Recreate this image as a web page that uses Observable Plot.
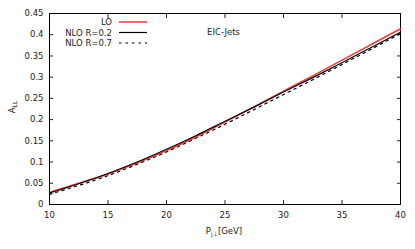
<!DOCTYPE html>
<html>
<head>
<meta charset="utf-8">
<script src="https://cdn.jsdelivr.net/npm/d3@7"></script>
<script src="https://cdn.jsdelivr.net/npm/@observablehq/plot@0.6"></script>
<style>
  html, body { margin: 0; padding: 0; background: #fff; }
  #wrap { position: relative; width: 415px; height: 249px; font-family: "DejaVu Sans", sans-serif; }
</style>
</head>
<body>
<div id="wrap"></div>
<script>
const pT = [10, 12.5, 15, 17.5, 20, 22.5, 25, 27.5, 30, 32.5, 35, 37.5, 40];
const LO    = [0.029, 0.050, 0.072, 0.098, 0.127, 0.159, 0.194, 0.230, 0.267, 0.303, 0.340, 0.377, 0.414];
const NLO02 = [0.027, 0.049, 0.073, 0.100, 0.130, 0.162, 0.196, 0.230, 0.265, 0.299, 0.334, 0.370, 0.406];
const NLO07 = [0.024, 0.045, 0.068, 0.095, 0.124, 0.156, 0.189, 0.224, 0.259, 0.294, 0.330, 0.366, 0.403];
const seriesNames = ["LO", "NLO R=0.2", "NLO R=0.7"];
const xTicks = [10, 15, 20, 25, 30, 35, 40];
const yTicks = [0, 0.05, 0.1, 0.15, 0.2, 0.25, 0.3, 0.35, 0.4, 0.45];
const annotation = "EIC-Jets";

const rows = (vals) => pT.map((x, i) => ({x, y: vals[i]}));
const fmtY = d => d === 0 ? "0" : String(d);

const chart = Plot.plot({
  width: 415, height: 249,
  marginLeft: 49, marginRight: 15, marginTop: 13, marginBottom: 45,
  style: {fontFamily: "DejaVu Sans, sans-serif", fontSize: "8.5px", color: "#222", background: "#fff"},
  x: {domain: [10, 40]},
  y: {domain: [0, 0.45]},
  marks: [
    Plot.axisX(xTicks, {tickSize: 0, tickPadding: 7, tickFormat: d => String(d), label: null, fontSize: 8.5}),
    Plot.axisX(xTicks, {tickSize: -4, tickFormat: () => "", label: null}),
    Plot.axisX(xTicks, {anchor: "top", tickSize: -4, tickFormat: () => "", label: null}),
    Plot.axisY(yTicks, {tickSize: 0, tickPadding: 6, tickFormat: fmtY, label: null, fontSize: 8.5}),
    Plot.axisY(yTicks, {tickSize: -4, tickFormat: () => "", label: null}),
    Plot.axisY(yTicks, {anchor: "right", tickSize: -4, tickFormat: () => "", label: null}),
    Plot.frame({stroke: "#000", strokeWidth: 1}),
    Plot.line(rows(NLO07), {x: "x", y: "y", stroke: "#000", strokeWidth: 1.2, strokeDasharray: "2.5,4", curve: "monotone-x"}),
    Plot.line(rows(LO), {x: "x", y: "y", stroke: "#f03a3a", strokeWidth: 1.5, curve: "monotone-x"}),
    Plot.line(rows(NLO02), {x: "x", y: "y", stroke: "#000", strokeWidth: 1.2, curve: "monotone-x"}),
    Plot.text([annotation], {frameAnchor: "top-left", dx: 174, dy: 15, text: d => d, textAnchor: "middle", fontSize: 8.5, fill: "#222"})
  ]
});
const wrap = document.getElementById("wrap");
wrap.appendChild(chart);

const ns = "http://www.w3.org/2000/svg";
const svg = chart.tagName.toLowerCase() === "svg" ? chart : chart.querySelector("svg");
function addText(x, y, parts, opts = {}) {
  const t = document.createElementNS(ns, "text");
  t.setAttribute("x", x); t.setAttribute("y", y);
  t.setAttribute("font-size", opts.size || 8.5);
  t.setAttribute("fill", "#222");
  t.setAttribute("text-anchor", opts.anchor || "middle");
  t.setAttribute("font-family", "DejaVu Sans, sans-serif");
  if (opts.rotate) t.setAttribute("transform", `rotate(-90 ${x} ${y})`);
  for (const [s, sub] of parts) {
    const ts = document.createElementNS(ns, "tspan");
    ts.textContent = s;
    if (sub) { ts.setAttribute("font-size", 6); ts.setAttribute("baseline-shift", "-25%"); }
    t.appendChild(ts);
  }
  svg.appendChild(t);
}
addText(224, 234, [["P", false], ["j\u22A5", true], ["[GeV]", false]]);
addText(15, 107, [["A", false], ["LL", true]], {rotate: true});

const legendItems = [
  {name: seriesNames[0], stroke: "#f03a3a", w: 1.5, dash: null},
  {name: seriesNames[1], stroke: "#000", w: 1.2, dash: null},
  {name: seriesNames[2], stroke: "#000", w: 1.2, dash: "2.5,4"}
];
legendItems.forEach((it, i) => {
  const y = 22 + i * 10.5;
  const t = document.createElementNS(ns, "text");
  t.setAttribute("x", 112); t.setAttribute("y", y + 3);
  t.setAttribute("text-anchor", "end");
  t.setAttribute("font-size", 8.5);
  t.setAttribute("fill", "#222");
  t.setAttribute("font-family", "DejaVu Sans, sans-serif");
  t.textContent = it.name;
  svg.appendChild(t);
  const l = document.createElementNS(ns, "line");
  l.setAttribute("x1", 119); l.setAttribute("x2", 147);
  l.setAttribute("y1", y); l.setAttribute("y2", y);
  l.setAttribute("stroke", it.stroke);
  l.setAttribute("stroke-width", it.w);
  if (it.dash) l.setAttribute("stroke-dasharray", it.dash);
  svg.appendChild(l);
});
</script>
</body>
</html>
